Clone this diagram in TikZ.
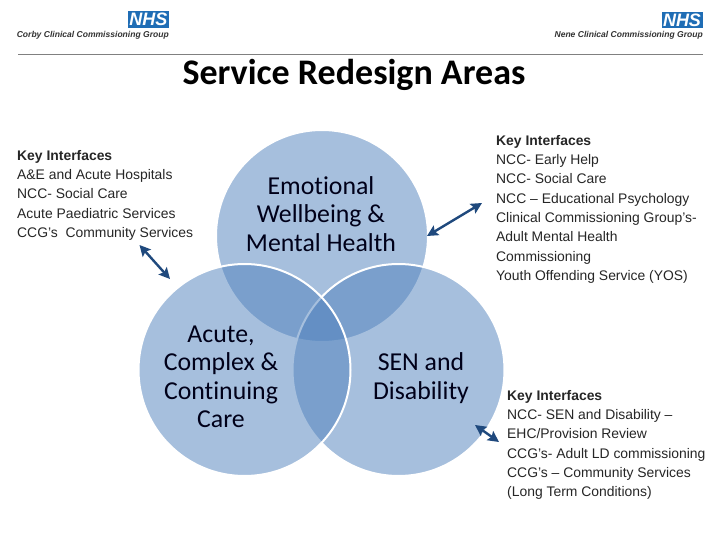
\documentclass[tikz,border=0pt]{standalone}
\usepackage{fontspec}
\setmainfont{Liberation Sans}
\newfontfamily\carlitofont[Ligatures=NoCommon]{Carlito}
\usetikzlibrary{arrows.meta}
\definecolor{venn}{HTML}{4F81BD}
\definecolor{arrowblue}{HTML}{1F497D}
\definecolor{nhsblue}{HTML}{1F6DB5}
\tikzset{
  vennc/.style={circle,minimum size=212pt,inner sep=0pt,fill=venn,fill opacity=0.5,draw=white,draw opacity=1,line width=2pt},
  venntext/.style={align=center,font=\carlitofont\fontsize{25.8}{28.5}\selectfont,text=black!90!blue},
  infotext/.style={align=left,anchor=north west,inner sep=0pt,font=\fontsize{13.9}{19.3}\selectfont,text=black!85},
  dblarrow/.style={{Stealth[length=11pt,width=11pt,inset=2pt]}-{Stealth[length=11pt,width=11pt,inset=2pt]},line width=2.4pt,draw=arrowblue},
  nhsbox/.style={fill=nhsblue,text=white,inner sep=0pt,minimum width=41pt,minimum height=16.5pt,font=\bfseries\itshape\fontsize{18}{18}\selectfont},
  grouptext/.style={inner sep=0pt,anchor=east,text=black!80,font=\bfseries\itshape\fontsize{8.55}{9}\selectfont},
}
\begin{document}
\begin{tikzpicture}[x=1pt,y=-1pt]
\useasboundingbox (0,0) rectangle (720,540);
\fill[white] (0,0) rectangle (720,540);
% header
\node[nhsbox] (nhsL) at (148.5,19.5) {NHS};
\node[grouptext] (corby) at (169,35) {Corby Clinical Commissioning Group};
\node[nhsbox] (nhsR) at (682,20) {NHS};
\node[grouptext] (nene) at (703,35) {Nene Clinical Commissioning Group};
\coordinate (ruleL) at (18,54);
\coordinate (ruleR) at (703,54);
\draw[gray,line width=0.8pt] (ruleL) -- (ruleR);
\node[font=\carlitofont\bfseries\fontsize{36}{40}\selectfont,inner sep=0pt] (title) at (354,75) {Service Redesign Areas};
% venn
\node[vennc] (top) at (322,236) {};
\node[vennc] (right) at (398.5,370) {};
\node[vennc] (left) at (244.5,370) {};
\node[venntext] (t1) at (321,214) {Emotional\\Wellbeing \&\\Mental Health};
\node[venntext] (t2) at (221,377) {Acute,\\Complex \&\\Continuing\\Care};
\node[venntext] (t3) at (421,378) {SEN and\\Disability};
% info
\node[infotext] (i1) at (17,150) {\textbf{Key Interfaces}\\A\&E and Acute Hospitals\\NCC- Social Care\\Acute Paediatric Services\\CCG’s\ \ Community Services};
\node[infotext] (i2) at (496,135) {\textbf{Key Interfaces}\\NCC- Early Help\\NCC- Social Care\\NCC – Educational Psychology\\Clinical Commissioning Group’s-\\Adult Mental Health\\Commissioning\\Youth Offending Service (YOS)};
\node[infotext] (i3) at (507,390) {\textbf{Key Interfaces}\\NCC- SEN and Disability –\\EHC/Provision Review\\CCG’s- Adult LD commissioning\\CCG’s – Community Services\\(Long Term Conditions)};
% arrows
\coordinate (a1s) at (139.5,245);
\coordinate (a1e) at (170,279);
\coordinate (a2s) at (482,203);
\coordinate (a2e) at (427,236);
\coordinate (a3s) at (475,425);
\coordinate (a3e) at (499,442);
\draw[dblarrow] (a1s) -- (a1e);
\draw[dblarrow] (a2s) -- (a2e);
\draw[dblarrow] (a3s) -- (a3e);
\end{tikzpicture}
\end{document}
